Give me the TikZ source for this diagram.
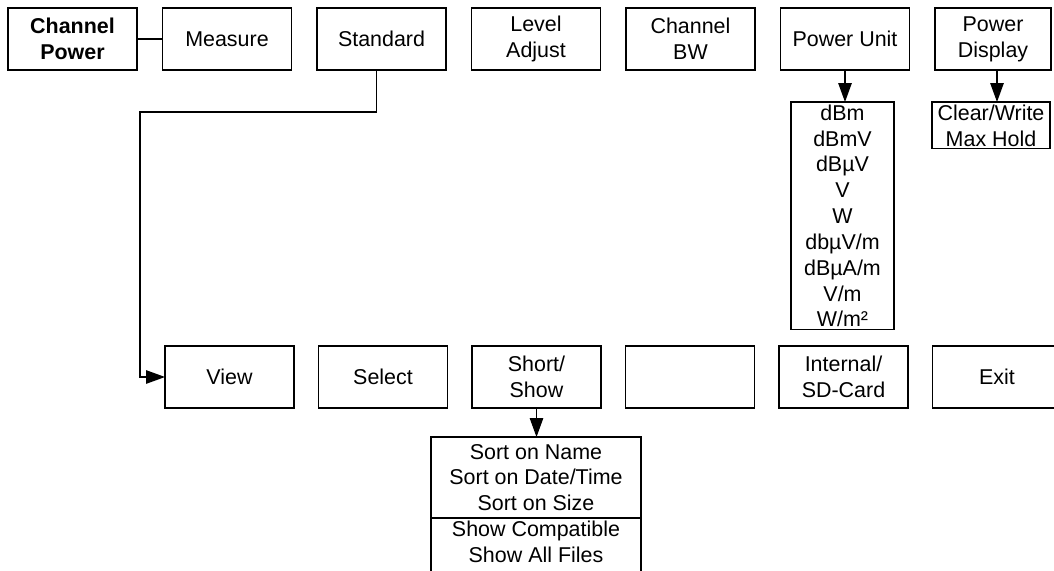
\documentclass[tikz,border=0pt]{standalone}
\usepackage{fontspec}
\setmainfont{Liberation Sans}
\usetikzlibrary{shapes, arrows.meta, positioning}

\begin{document}
\begin{tikzpicture}[
  node distance = .51cm,
  line width=.7pt,
  font=\fontsize{12.2}{14.7}\selectfont,
  box/.style={draw, minimum width=2.58cm, minimum height=1.24cm, align=center, inner sep=1pt, outer sep=0pt},
  list/.style={draw, align=center, inner xsep=1pt, inner ysep=1.5pt, outer sep=0pt, anchor=north},
  arr/.style={-{Triangle[length=.38cm, width=.27cm]}}]

  \clip (0,0) rectangle (21.08,-11.4);

  % top row
  \node[box, font=\fontsize{12.2}{14.7}\selectfont\bfseries] (chpow) at (1.45,-.78) {Channel\\Power};
  \node[box, right=of chpow] (meas) {Measure};
  \node[box, right=of meas] (std) {Standard};
  \node[box, right=of std] (lvl) {Level\\Adjust};
  \node[box, right=of lvl] (chbw) {Channel\\BW};
  \node[box, right=of chbw] (punit) {Power Unit};
  \node[box, right=of punit, minimum width=2.32cm] (pdisp) {Power\\Display};

  % bottom row
  \node[box] (view) at (4.59,-7.54) {View};
  \node[box, right=.49cm of view] (sel) {Select};
  \node[box, right=.49cm of sel] (short) {Short/\\Show};
  \node[box, right=.49cm of short] (blank) {};
  \node[box, right=.49cm of blank] (sdcard) {Internal/\\SD-Card};
  \node[box, right=.49cm of sdcard] (exit) {Exit};

  % sub menus
  \node[list, minimum width=2.06cm] (units) at (16.85,-2.04)
    {dBm\\dBmV\\dBµV\\V\\W\\dbµV/m\\dBµA/m\\V/m\\W/m²};
  \node[list, minimum width=2.36cm] (hold) at (19.82,-2.04) {Clear/Write\\Max Hold};
  \node[list, minimum width=4.2cm, minimum height=1.62cm] (sort) at (10.72,-8.74)
    {Sort on Name\\Sort on Date/Time\\Sort on Size};
  \node[list, minimum width=4.2cm, text depth=1cm] (show) at (sort.south) {Show Compatible\\Show All Files};

  \coordinate (turn) at (2.8,-2.24);

  \draw (chpow) -- (meas);
  \draw[arr] ([xshift=-.1cm]std.south) |- (turn) |- (view.west);
  \draw[arr] (punit.south) -- (punit.south |- units.north);
  \draw[arr] ([xshift=.08cm]pdisp.south) -- ([xshift=.08cm]pdisp.south |- hold.north);
  \draw[arr] (short.south) -- (short.south |- sort.north);
\end{tikzpicture}
\end{document}
